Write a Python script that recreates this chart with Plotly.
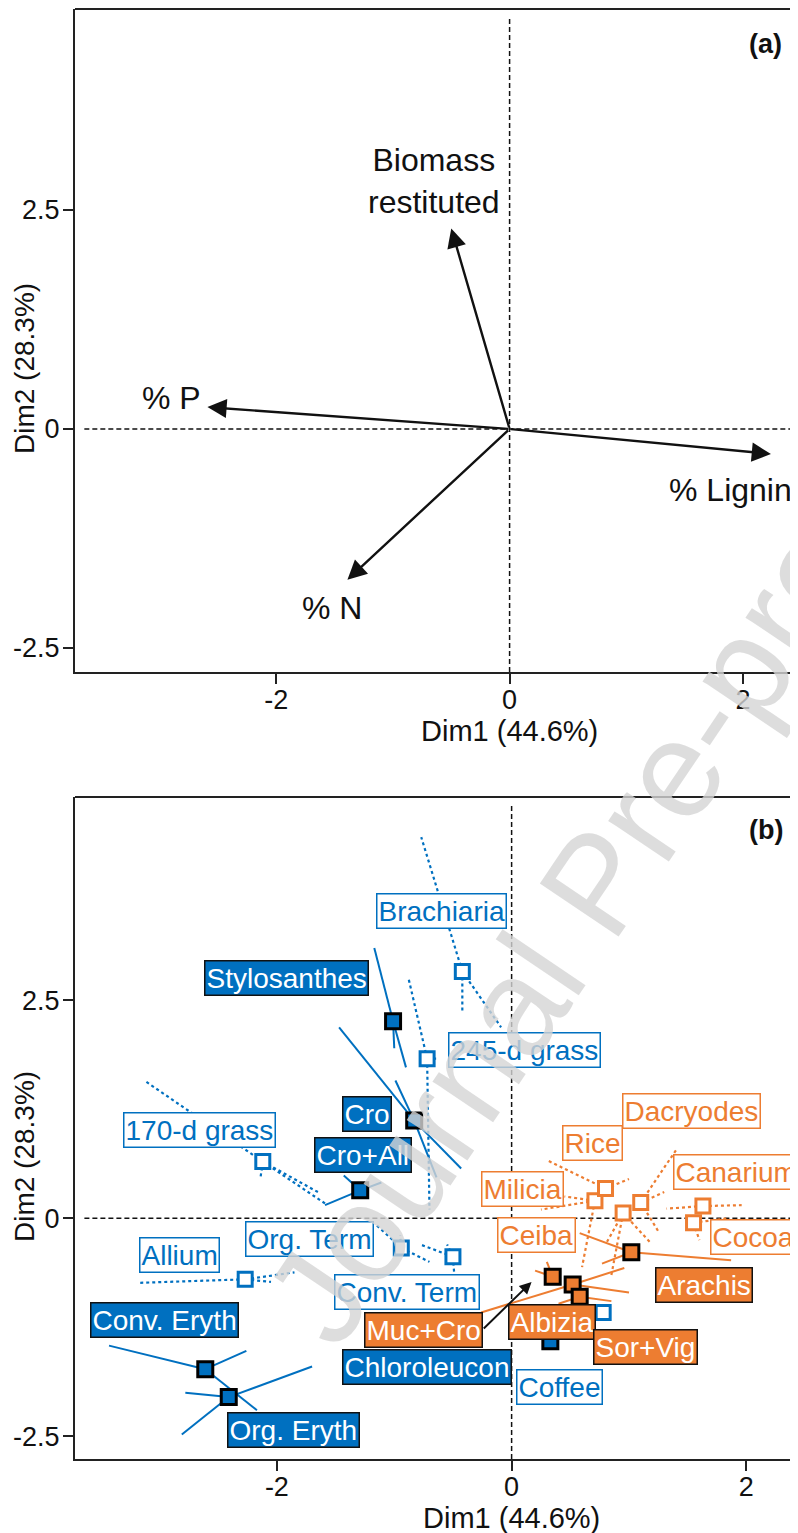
import plotly.graph_objects as go

# ---------------- DATA ----------------
# Panel (a): variable loadings (Dim1, Dim2)
var_names = ["Biomass<br>restituted", "% P", "% Lignin", "% N"]
var_dim1 = [-0.50, -2.59, 2.24, -1.39]
var_dim2 = [2.29, 0.25, -0.285, -1.72]

# Panel (b): treatment means (Dim1, Dim2)
blue_filled_names = ["Stylosanthes", "Cro", "Cro+All", "Conv. Eryth", "Org. Eryth", "Chloroleucon"]
blue_filled_x = [-1.01, -0.83, -1.29, -2.61, -2.41, 0.33]
blue_filled_y = [2.26, 1.12, 0.32, -1.73, -2.05, -1.41]

blue_open_names = ["Brachiaria", "245-d grass", "170-d grass", "Allium", "Org. Term", "Conv. Term", "Coffee"]
blue_open_x = [-0.42, -0.72, -2.12, -2.27, -0.94, -0.50, 0.78]
blue_open_y = [2.83, 1.83, 0.65, -0.70, -0.34, -0.44, -1.08]

orange_filled_names = ["Muc+Cro", "Albizia", "Sor+Vig", "Arachis"]
orange_filled_x = [0.35, 0.52, 0.58, 1.02]
orange_filled_y = [-0.67, -0.76, -0.90, -0.39]

orange_open_names = ["Milicia", "Rice", "Ceiba", "Dacryodes", "Canarium", "Cocoa"]
orange_open_x = [0.71, 0.80, 0.95, 1.10, 1.63, 1.55]
orange_open_y = [0.20, 0.34, 0.06, 0.18, 0.14, -0.05]

# partial (replicate) points linked to each treatment mean
partials = {
    "Stylosanthes": [(-1.17, 3.10), (-0.90, 1.73), (-1.00, 1.95)],
    "Cro": [(-1.47, 2.19), (-0.43, 0.57), (-0.99, 1.58), (-0.64, 0.47)],
    "Cro+All": [(-1.43, 0.49), (-1.11, 0.41), (-1.59, 0.15)],
    "Conv. Eryth": [(-3.43, -1.46), (-2.26, -1.52), (-2.17, -2.20)],
    "Org. Eryth": [(-2.78, -2.00), (-1.70, -1.70), (-2.81, -2.48)],
    "Chloroleucon": [(0.30, -1.30)],
    "Brachiaria": [(-0.77, 4.37), (-0.42, 2.36), (-0.09, 2.19)],
    "245-d grass": [(-0.88, 2.76), (-0.70, 0.10), (-0.62, 1.83)],
    "170-d grass": [(-3.13, 1.58), (-1.59, 0.17), (-1.65, 0.30), (-2.14, 0.46)],
    "Allium": [(-3.17, -0.74), (-1.85, -0.62), (-2.05, -0.73)],
    "Org. Term": [(-1.15, -0.08), (-0.70, -0.50), (-0.95, -0.20)],
    "Conv. Term": [(-0.55, -0.30), (-0.49, -0.62), (-0.78, -0.30)],
    "Coffee": [(0.80, -1.00)],
    "Muc+Cro": [(0.30, -0.50), (0.20, -0.60)],
    "Albizia": [(-0.26, -1.08), (0.96, -0.57), (1.00, -0.85)],
    "Sor+Vig": [(0.85, -0.95), (0.62, -1.05), (0.40, -0.98)],
    "Arachis": [(1.87, -0.48), (0.58, -0.17), (0.77, -0.52)],
    "Milicia": [(0.25, 0.10), (0.60, -0.56), (0.45, 0.25)],
    "Rice": [(0.31, 0.66), (1.00, 0.45)],
    "Ceiba": [(0.80, -0.30), (1.19, -0.29), (0.85, -0.65)],
    "Dacryodes": [(1.40, 0.78), (1.30, 0.30), (1.25, -0.15)],
    "Canarium": [(1.96, 0.15), (1.32, 0.11)],
    "Cocoa": [(1.60, -0.25), (1.85, 0.00)],
}

tick_x = [-2, 0, 2]
tick_y = [-2.5, 0, 2.5]
x_title = "Dim1 (44.6%)"
y_title = "Dim2 (28.3%)"

# ---------------- LAYOUT / STYLE ----------------
BLUE = "#0070C0"
ORANGE = "#ED7D31"
FONT = "Liberation Sans, Arial, sans-serif"

OFF = 8                      # page body margin in the browser
W, H = 798 - OFF, 1533 - OFF
ML, MR, MT, MB = 75 - OFF, 0, 1, H - (1459 - OFF)
PW, PH = W - ML - MR, H - MT - MB


def py_paper(page_y):
    return (H - MB - (page_y - OFF)) / PH


def px_paper(page_x):
    return (page_x - OFF - ML) / PW


DOM_A = [py_paper(672), 1.0]
DOM_B = [0.0, py_paper(797)]
XA = [-3.725, 2.472]
YA = [-2.774, 4.795]
XB = [-3.72, 2.44]
YB = [-2.76, 4.83]

label_pos_a = {
    "Biomass<br>restituted": (-0.65, 2.83),
    "% P": (-2.90, 0.35),
    "% Lignin": (1.89, -0.70),
    "% N": (-1.52, -2.04),
}

label_pos_b = {
    "Stylosanthes": (-1.92, 2.76), "Cro": (-1.23, 1.20), "Cro+All": (-1.27, 0.73),
    "Conv. Eryth": (-2.96, -1.17), "Org. Eryth": (-1.86, -2.43), "Chloroleucon": (-0.72, -1.70),
    "Brachiaria": (-0.60, 3.52), "245-d grass": (0.11, 1.93), "170-d grass": (-2.66, 1.01),
    "Allium": (-2.83, -0.42), "Org. Term": (-1.72, -0.24), "Conv. Term": (-0.89, -0.85),
    "Coffee": (0.41, -1.94), "Muc+Cro": (-0.75, -1.28), "Albizia": (0.34, -1.19),
    "Sor+Vig": (1.14, -1.48), "Arachis": (1.64, -0.77), "Milicia": (0.09, 0.33),
    "Rice": (0.69, 0.86), "Ceiba": (0.21, -0.19), "Dacryodes": (1.53, 1.23),
    "Canarium": (1.91, 0.53), "Cocoa": (2.06, -0.22),
}

fig = go.Figure()

dash_line = dict(color="#111", width=1.5, dash="5px,3px")
# ----- reference lines -----
fig.add_trace(go.Scatter(x=[XA[0] + 0.08, XA[1]], y=[0, 0], mode="lines", xaxis="x", yaxis="y",
                         line=dash_line, hoverinfo="skip"))
fig.add_trace(go.Scatter(x=[0, 0], y=[YA[0], YA[1] - 0.08], mode="lines", xaxis="x", yaxis="y",
                         line=dash_line, hoverinfo="skip"))
fig.add_trace(go.Scatter(x=[XB[0] + 0.08, XB[1]], y=[0, 0], mode="lines", xaxis="x2", yaxis="y2",
                         line=dash_line, hoverinfo="skip"))
fig.add_trace(go.Scatter(x=[0, 0], y=[YB[0], YB[1] - 0.08], mode="lines", xaxis="x2", yaxis="y2",
                         line=dash_line, hoverinfo="skip"))


def spider(names, xs, ys):
    sx, sy = [], []
    for n, cx, cy in zip(names, xs, ys):
        for px, py in partials.get(n, []):
            sx += [cx, px, None]
            sy += [cy, py, None]
    return sx, sy


groups = [
    (blue_open_names, blue_open_x, blue_open_y, BLUE, "dot", False),
    (orange_open_names, orange_open_x, orange_open_y, ORANGE, "dot", False),
    (blue_filled_names, blue_filled_x, blue_filled_y, BLUE, "solid", True),
    (orange_filled_names, orange_filled_x, orange_filled_y, ORANGE, "solid", True),
]

for names, xs, ys, col, dash, filled in groups:
    sx, sy = spider(names, xs, ys)
    fig.add_trace(go.Scatter(x=sx, y=sy, mode="lines", xaxis="x2", yaxis="y2",
                             line=dict(color=col, width=2.2 if dash == "dot" else 2, dash=dash),
                             hoverinfo="skip"))

for names, xs, ys, col, dash, filled in groups:
    if filled:
        mk = dict(symbol="square", size=15, color=col, line=dict(color="black", width=3))
    else:
        mk = dict(symbol="square", size=14, color="white", line=dict(color=col, width=3))
    fig.add_trace(go.Scatter(x=xs, y=ys, mode="markers", xaxis="x2", yaxis="y2", marker=mk,
                             text=names, hoverinfo="text"))

annotations = []

# ----- panel (a) arrows and labels -----
for n, dx, dy in zip(var_names, var_dim1, var_dim2):
    annotations.append(dict(x=dx, y=dy, ax=0, ay=0, xref="x", yref="y", axref="x", ayref="y",
                            text="", showarrow=True, arrowhead=2, arrowsize=1.6, arrowwidth=2.4,
                            arrowcolor="#111", standoff=0, startstandoff=0))
    lx, ly = label_pos_a[n]
    annotations.append(dict(x=lx, y=ly, xref="x", yref="y", text=n, showarrow=False,
                            font=dict(family=FONT, size=32, color="#111"), align="center"))

annotations.append(dict(x=2.19, y=4.39, xref="x", yref="y", text="<b>(a)</b>", showarrow=False,
                        font=dict(family=FONT, size=27, color="#111")))
annotations.append(dict(x=2.17, y=4.45, xref="x2", yref="y2", text="<b>(b)</b>", showarrow=False,
                        font=dict(family=FONT, size=27, color="#111")))

# axis titles (R-style, centred on the full plot region)
for xr, ypx in (("x", 731), ("x2", 1518)):
    annotations.append(dict(x=0, y=py_paper(ypx), xref=xr, yref="paper", text=x_title, showarrow=False,
                            font=dict(family=FONT, size=29, color="#111"), yanchor="middle"))
for ypx in (369, 1157):
    annotations.append(dict(x=px_paper(24), y=py_paper(ypx), xref="paper", yref="paper",
                            text=y_title, showarrow=False, textangle=-90,
                            font=dict(family=FONT, size=28, color="#111"),
                            xanchor="center", yanchor="middle"))

# Muc+Cro pointer arrow
annotations.append(dict(x=orange_filled_x[0] - 0.18, y=orange_filled_y[0] - 0.06,
                        ax=label_pos_b["Muc+Cro"][0] + 0.50, ay=label_pos_b["Muc+Cro"][1],
                        xref="x2", yref="y2", axref="x2", ayref="y2", text="", showarrow=True,
                        arrowhead=2, arrowsize=1.2, arrowwidth=2, arrowcolor="#111", standoff=0))

# ----- panel (b) labels -----
label_groups = [
    (blue_open_names, "white", BLUE, BLUE),
    (orange_open_names, "white", ORANGE, ORANGE),
    (blue_filled_names, BLUE, "#111", "white"),
    (orange_filled_names, ORANGE, "#111", "white"),
]
for names, bg, border, fc in label_groups:
    for n in names:
        lx, ly = label_pos_b[n]
        annotations.append(dict(x=lx, y=ly, xref="x2", yref="y2", text=n, showarrow=False,
                                bgcolor=bg, bordercolor=border, borderwidth=1.5, borderpad=1,
                                font=dict(family=FONT, size=28, color=fc)))

# watermark (anchored on panel (b) data coordinates)
annotations.append(dict(x=0.72, y=3.83, xref="x2", yref="y2",
                        text="Journal Pre-proof", showarrow=False, textangle=-56,
                        font=dict(family=FONT, size=138, color="rgba(212,212,212,0.8)")))

axis_common = dict(showline=True, linecolor="#222", linewidth=2, ticks="outside", ticklen=10,
                   tickwidth=2, tickcolor="#222", showgrid=False, zeroline=False, automargin=False,
                   tickfont=dict(family=FONT, size=27, color="#111"))

fig.update_layout(
    width=W, height=H, margin=dict(l=ML, r=MR, t=MT, b=MB, autoexpand=False),
    paper_bgcolor="white", plot_bgcolor="white", showlegend=False,
    xaxis=dict(domain=[0, 1], range=XA, anchor="y", tickvals=tick_x, ticktext=[str(v) for v in tick_x],
               ticklabelstandoff=-7, **axis_common),
    yaxis=dict(domain=DOM_A, range=YA, anchor="x", tickvals=tick_y, ticktext=[str(v) for v in tick_y],
               ticklabelstandoff=-2, **axis_common),
    xaxis2=dict(domain=[0, 1], range=XB, anchor="y2", tickvals=tick_x, ticktext=[str(v) for v in tick_x],
                ticklabelstandoff=-7, **axis_common),
    yaxis2=dict(domain=DOM_B, range=YB, anchor="x2", tickvals=tick_y, ticktext=[str(v) for v in tick_y],
                ticklabelstandoff=-2, **axis_common),
    annotations=annotations,
    shapes=[
        dict(type="line", xref="paper", yref="paper", x0=0, x1=1, y0=DOM_A[1], y1=DOM_A[1],
             line=dict(color="#222", width=2)),
        dict(type="line", xref="paper", yref="paper", x0=0, x1=1, y0=DOM_B[1], y1=DOM_B[1],
             line=dict(color="#222", width=2)),
    ],
)

fig.write_html("out.html")
